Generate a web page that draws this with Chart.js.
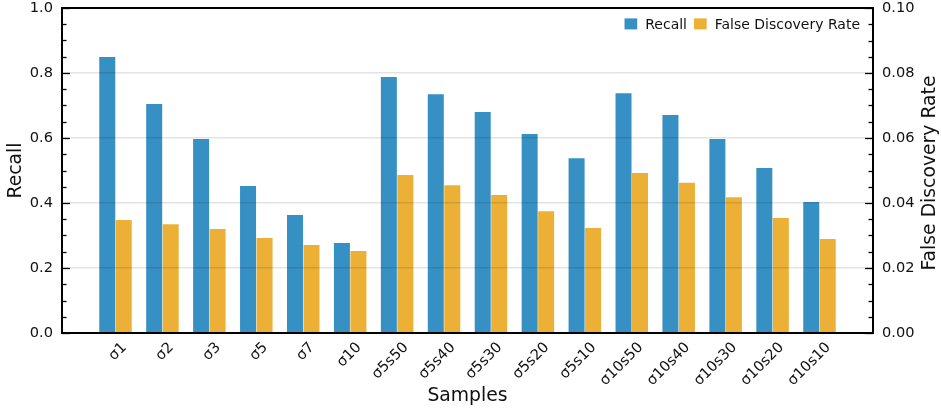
<!DOCTYPE html>
<html>
<head>
<meta charset="utf-8">
<script src="https://cdn.jsdelivr.net/npm/chart.js@4.4.1/dist/chart.umd.min.js"></script>
<style>
  html, body { margin: 0; padding: 0; background: #fff; }
  #wrap { width: 941px; height: 410px; position: relative; }
</style>
</head>
<body>
<div id="wrap"><canvas id="c"></canvas></div>
<script>
// Sample groups along the x axis
const samples = ['σ1', 'σ2', 'σ3', 'σ5', 'σ7', 'σ10',
  'σ5s50', 'σ5s40', 'σ5s30', 'σ5s20', 'σ5s10',
  'σ10s50', 'σ10s40', 'σ10s30', 'σ10s20', 'σ10s10'];

// Recall per sample (left axis)
const recall = [0.849, 0.705, 0.597, 0.452, 0.363, 0.277,
  0.788, 0.735, 0.680, 0.612, 0.538,
  0.738, 0.671, 0.597, 0.508, 0.403];

// False discovery rate per sample (right axis)
const fdr = [0.0348, 0.0335, 0.0320, 0.0292, 0.0271, 0.0252,
  0.0486, 0.0455, 0.0425, 0.0375, 0.0323,
  0.0492, 0.0462, 0.0418, 0.0354, 0.0289];

// Axis tick labels
const recallTicks = [0.0, 0.2, 0.4, 0.6, 0.8, 1.0];
const fdrTicks = [0.00, 0.02, 0.04, 0.06, 0.08, 0.10];

const seriesNames = ['Recall', 'False Discovery Rate'];
const seriesColors = ['#3690c4', '#ebb035'];
const axisTitles = { x: 'Samples', y: 'Recall', y1: 'False Discovery Rate' };

const FONT = '"DejaVu Sans", "Liberation Sans", sans-serif';
const tickFont = { family: FONT, size: 14.6 };
const titleFont = { family: FONT, size: 18.8 };
const legendFontSize = 14;

// Inward minor/major tick marks, plot frame, in-plot legend, right axis title
const decorations = {
  id: 'decorations',
  afterDraw(chart) {
    const { ctx, chartArea: a, scales } = chart;
    ctx.save();

    // inward tick marks on both vertical spines
    ctx.strokeStyle = '#000';
    ctx.lineWidth = 1.3;
    const marks = (scale, edge, dir, step, count) => {
      for (let k = 0; k <= count; k++) {
        const py = Math.round(scale.getPixelForValue(k * step)) + 0.5;
        const len = (k % 4 === 0) ? 8 : 4.5;
        ctx.beginPath();
        ctx.moveTo(edge, py);
        ctx.lineTo(edge + dir * len, py);
        ctx.stroke();
      }
    };
    marks(scales.y, a.left, 1, 0.05, 20);
    marks(scales.y1, a.right, -1, 0.005, 20);

    // frame
    ctx.lineWidth = 2;
    ctx.strokeRect(a.left, a.top, a.right - a.left, a.bottom - a.top);

    // legend inside the plot, top right
    ctx.font = legendFontSize + 'px ' + FONT;
    ctx.textBaseline = 'alphabetic';
    ctx.textAlign = 'left';
    const boxW = 12.7, boxH = 11, gapText = 8, gapItem = 7;
    let xr = a.right - 13;
    const items = chart.data.datasets.map(d => ({ label: d.label, color: d.backgroundColor }));
    const placed = [];
    for (let i = items.length - 1; i >= 0; i--) {
      const tw = ctx.measureText(items[i].label).width;
      const tx = xr - tw;
      const bx = tx - gapText - boxW;
      placed.push({ ...items[i], tx, bx });
      xr = bx - gapItem;
    }
    placed.forEach(p => {
      ctx.fillStyle = p.color;
      ctx.fillRect(p.bx, 18.4, boxW, boxH);
      ctx.fillStyle = '#111';
      ctx.fillText(p.label, p.tx, 29.4);
    });

    // right axis title, reading bottom to top
    ctx.font = titleFont.size + 'px ' + FONT;
    ctx.fillStyle = '#111';
    ctx.textAlign = 'center';
    ctx.translate(934.5, (a.top + a.bottom) / 2 + 2.5);
    ctx.rotate(-Math.PI / 2);
    ctx.fillText(axisTitles.y1, 0, 0);
    ctx.restore();
  }
};

const noEdgePadding = s => {
  s.paddingTop = 0; s.paddingBottom = 0; s.paddingLeft = 0; s.paddingRight = 0;
};

new Chart(document.getElementById('c'), {
  type: 'bar',
  data: {
    datasets: [
      {
        label: seriesNames[0],
        data: recall.map((v, i) => ({ x: i, y: v })),
        backgroundColor: seriesColors[0],
        yAxisID: 'y',
        categoryPercentage: 0.703,
        barPercentage: 0.97,
        borderWidth: 0
      },
      {
        label: seriesNames[1],
        data: fdr.map((v, i) => ({ x: i, y: v })),
        backgroundColor: seriesColors[1],
        yAxisID: 'y1',
        categoryPercentage: 0.703,
        barPercentage: 0.97,
        borderWidth: 0
      }
    ]
  },
  options: {
    responsive: true,
    maintainAspectRatio: false,
    animation: false,
    layout: { padding: { top: 8, left: 0, right: 0, bottom: 0 }, autoPadding: false },
    plugins: {
      legend: { display: false },
      tooltip: { enabled: false }
    },
    scales: {
      x: {
        type: 'linear',
        offset: false,
        bounds: 'data',
        min: -1.14,
        max: 16.14,
        afterBuildTicks: s => { s.ticks = samples.map((_, i) => ({ value: i })); },
        afterFit: s => { s.height = 77; noEdgePadding(s); },
        ticks: {
          callback: v => samples[v] ?? '',
          autoSkip: false,
          minRotation: 45,
          maxRotation: 45,
          padding: 6,
          labelOffset: 9,
          font: tickFont,
          color: '#111'
        },
        grid: { display: false, drawTicks: false, offset: false },
        border: { display: false },
        title: { display: true, text: axisTitles.x, font: titleFont, color: '#111', padding: { top: 0, bottom: 3 } }
      },
      y: {
        position: 'left',
        min: 0,
        max: 1,
        afterBuildTicks: s => { s.ticks = recallTicks.map(v => ({ value: v })); },
        afterFit: s => { s.width = 62; noEdgePadding(s); },
        ticks: { callback: v => v.toFixed(1), padding: 9, font: tickFont, color: '#111' },
        grid: { color: 'rgba(0,0,0,0.11)', lineWidth: 1.5, drawTicks: false, z: 1 },
        border: { display: false },
        title: { display: true, text: axisTitles.y, font: titleFont, color: '#111', padding: { top: 5, bottom: 0 } }
      },
      y1: {
        position: 'right',
        min: 0,
        max: 0.1,
        afterBuildTicks: s => { s.ticks = fdrTicks.map(v => ({ value: v })); },
        afterFit: s => { s.width = 68; noEdgePadding(s); },
        ticks: { callback: v => v.toFixed(2), padding: 9, font: tickFont, color: '#111' },
        grid: { display: false, drawTicks: false },
        border: { display: false }
      }
    }
  },
  plugins: [decorations]
});
</script>
</body>
</html>
